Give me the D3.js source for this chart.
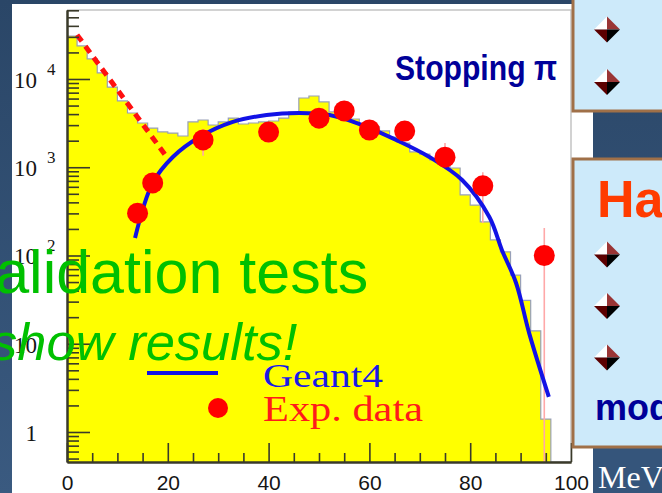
<!DOCTYPE html>
<html><head><meta charset="utf-8">
<script src="https://cdn.jsdelivr.net/npm/d3@7"></script>
<style>html,body{margin:0;padding:0;overflow:hidden;background:#2c4a6b}svg{display:block}</style>
</head><body><svg id="c" width="662" height="493"></svg>
<script>
// ---------- data ----------
const histBinStart = d3.range(0, 100, 2); // 2 MeV bins
const histCounts = [30700, 23700, 16900, 11700, 8100, 5640, 4120, 3170, 2780, 2510,
                    2440, 2260, 3260, 3430, 3010, 3260, 3610, 3090, 3170, 3260,
                    3340, 3610, 4230, 6090, 6420, 5490, 4230, 3810, 3520, 3090,
                    2860, 2580, 2200, 1880, 1490, 1410, 1210, 1090, 980, 485,
                    373, 240, 150, 110, 60, 31, 14, 1.4, 0, 0];
const expEnergy  = [14, 17, 27, 40, 50, 55, 60, 67, 75, 82.5, 94.7];
const expCounts  = [302, 665, 2040, 2500, 3600, 4350, 2640, 2570, 1300, 615, 100];
const expErrLow  = [240, 560, 1350, 1900, 3000, 3700, 2200, 2100, 1000, 234, 0.3];
const expErrHigh = [380, 790, 2700, 3100, 4300, 5100, 3100, 3100, 1880, 880, 205];
const g4Energy = [13.5, 17.0, 21.0, 26.3, 32.9, 39.6, 46.1, 52.1, 58.6, 65.3, 71.9, 78.4, 83.8, 86.3, 89.1, 91.7, 95.6];
const g4Counts = [158, 664, 1307, 2200, 3260, 3910, 4120, 3910, 3010, 2040, 1307, 717, 273, 115, 48.8, 13.2, 2.5];
const fitEnergy = [2, 20];
const fitCounts = [31600, 1260];
const xTicks = [0, 20, 40, 60, 80, 100];
const yTicks = [1, 10, 100, 1000, 10000];
const yTickLabels = [["1", ""], ["10", ""], ["10", "2"], ["10", "3"], ["10", "4"]];

// ---------- drawing ----------
const svg = d3.select("#c");
const defs = svg.append("defs");
const grad = defs.append("linearGradient").attr("id", "bg").attr("x1", 0).attr("y1", 0).attr("x2", 0).attr("y2", 1);
grad.append("stop").attr("offset", "0%").attr("stop-color", "#2a4667");
grad.append("stop").attr("offset", "100%").attr("stop-color", "#3a5a80");
svg.append("rect").attr("width", 662).attr("height", 493).attr("fill", "url(#bg)");
svg.append("rect").attr("x", 12).attr("y", 4).attr("width", 581).attr("height", 489).attr("fill", "#fff");

const x = d3.scaleLinear().domain([0, 100]).range([67, 571]);
const y = d3.scaleLog().domain([0.457, 60500]).range([462, 10]);
const ymin = y.domain()[0];

defs.append("clipPath").attr("id", "plot").append("rect")
  .attr("x", 67).attr("y", 10).attr("width", 504).attr("height", 452);

// frame (top/right light grey)
svg.append("path").attr("d", `M67,10H571V462`).attr("fill", "none").attr("stroke", "#c4c4c4").attr("stroke-width", 1.5);

const plot = svg.append("g").attr("clip-path", "url(#plot)");
const hist = histBinStart.map((s, i) => ({e: s, v: histCounts[i]}));
hist.push({e: 100, v: histCounts[histCounts.length - 1]});
const hy = d => y(Math.max(d.v, ymin));
plot.append("path").datum(hist)
  .attr("d", d3.area().x(d => x(d.e)).y0(y(ymin)).y1(hy).curve(d3.curveStepAfter))
  .attr("fill", "#ffff00");
plot.append("path").datum(hist)
  .attr("d", d3.line().x(d => x(d.e)).y(hy).curve(d3.curveStepAfter))
  .attr("fill", "none").attr("stroke", "#98a0b8").attr("stroke-width", 1.2);

// axes
const axCol = "#3a3a2a";
const yMinor = y.ticks().filter(v => !yTicks.includes(v));
function styleAxis(g) {
  g.selectAll("line").attr("stroke", axCol).attr("stroke-width", 1.6);
  g.select(".domain").attr("stroke", axCol).attr("stroke-width", 2);
}
svg.append("g").attr("transform", "translate(67,0)")
  .call(d3.axisLeft(y).tickValues(yMinor).tickSize(-12).tickSizeOuter(0).tickFormat(""))
  .call(styleAxis);
svg.append("g").attr("transform", "translate(67,0)")
  .call(d3.axisLeft(y).tickValues(yTicks).tickSize(-23).tickSizeOuter(0).tickFormat(""))
  .call(styleAxis);
const xMinor = d3.range(0, 101, 5).filter(v => !xTicks.includes(v));
svg.append("g").attr("transform", "translate(0,462)")
  .call(d3.axisBottom(x).tickValues(xMinor).tickSize(-9).tickSizeOuter(0).tickFormat(""))
  .call(styleAxis);
const xa = svg.append("g").attr("transform", "translate(0,462)")
  .call(d3.axisBottom(x).tickValues(xTicks).tickSize(-19).tickSizeOuter(0).tickPadding(13))
  .call(styleAxis);
xa.selectAll("text").attr("font-family", "Liberation Sans, Arial, sans-serif").attr("font-size", 21).attr("fill", "#151515");

// y tick labels
const yl = svg.append("g").attr("font-family", "Liberation Serif, serif").attr("fill", "#151515");
yTicks.forEach((t, i) => {
  const [base, sup] = yTickLabels[i];
  yl.append("text").attr("x", 37).attr("y", y(t) + 9).attr("text-anchor", "end").attr("font-size", 23).text(base);
  if (sup) yl.append("text").attr("x", 47).attr("y", y(t) - 4).attr("font-size", 17).text(sup);
});

// dashed red fit
plot.append("path").datum(fitEnergy.map((e, i) => [e, fitCounts[i]]))
  .attr("d", d3.line().x(d => x(d[0])).y(d => y(d[1])))
  .attr("fill", "none").attr("stroke", "#ff1010").attr("stroke-width", 5).attr("stroke-dasharray", "8,6");

// error bars
plot.selectAll("line.err").data(expEnergy).join("line").attr("class", "err")
  .attr("x1", d => x(d)).attr("x2", d => x(d))
  .attr("y1", (d, i) => y(Math.max(expErrLow[i], ymin))).attr("y2", (d, i) => y(expErrHigh[i]))
  .attr("stroke", "#ffa8a8").attr("stroke-width", 1.6);

// Geant4 curve
plot.append("path").datum(g4Energy.map((e, i) => [e, g4Counts[i]]))
  .attr("d", d3.line().x(d => x(d[0])).y(d => y(d[1])).curve(d3.curveCatmullRom))
  .attr("fill", "none").attr("stroke", "#1212e6").attr("stroke-width", 4);

// exp points
plot.selectAll("circle.exp").data(expEnergy).join("circle").attr("class", "exp")
  .attr("cx", d => x(d)).attr("cy", (d, i) => y(expCounts[i])).attr("r", 10.5).attr("fill", "#ff0000");

// legend
svg.append("line").attr("x1", 147).attr("x2", 218).attr("y1", 373).attr("y2", 373).attr("stroke", "#1212e6").attr("stroke-width", 4);
svg.append("circle").attr("cx", 218).attr("cy", 408).attr("r", 10).attr("fill", "#ff0000");
svg.append("text").attr("x", 263).attr("y", 387).attr("font-family", "Liberation Serif, serif").attr("font-size", 34)
  .attr("fill", "#1a1ae6").attr("textLength", 120).attr("lengthAdjust", "spacingAndGlyphs").text("Geant4");
svg.append("text").attr("x", 263).attr("y", 421).attr("font-family", "Liberation Serif, serif").attr("font-size", 35)
  .attr("fill", "#ff1a1a").attr("textLength", 160).attr("lengthAdjust", "spacingAndGlyphs").text("Exp. data");

// title
svg.append("text").attr("x", 395).attr("y", 80).attr("font-family", "Liberation Sans, Arial, sans-serif").attr("font-weight", "bold")
  .attr("font-size", 35).attr("fill", "#000099").attr("textLength", 162).attr("lengthAdjust", "spacingAndGlyphs").text("Stopping π");

// right panels
const panelFill = "#cdeafa", panelStroke = "#a07048";
svg.append("rect").attr("x", 573).attr("y", -10).attr("width", 100).attr("height", 121)
  .attr("fill", panelFill).attr("stroke", panelStroke).attr("stroke-width", 3);
svg.append("rect").attr("x", 573).attr("y", 159).attr("width", 100).attr("height", 288)
  .attr("fill", panelFill).attr("stroke", panelStroke).attr("stroke-width", 3);
function bullet(cx, cy) {
  const s = 13, g = svg.append("g").attr("transform", `translate(${cx},${cy})`);
  g.append("path").attr("d", `M0,0L${-s},0L0,${-s}Z`).attr("fill", "#ffffff");
  g.append("path").attr("d", `M0,0L0,${-s}L${s},0Z`).attr("fill", "#9a3535");
  g.append("path").attr("d", `M0,0L${-s},0L0,${s}Z`).attr("fill", "#5c0000");
  g.append("path").attr("d", `M0,0L${s},0L0,${s}Z`).attr("fill", "#000000");
}
[29.5, 82].forEach(cy => bullet(607, cy));
[254.5, 306, 357.5].forEach(cy => bullet(607, cy));
svg.append("text").attr("x", 597).attr("y", 217).attr("font-family", "Liberation Sans, Arial, sans-serif").attr("font-weight", "bold")
  .attr("font-size", 52).attr("fill", "#ff3c00").text("Ha");
svg.append("text").attr("x", 595).attr("y", 420).attr("font-family", "Liberation Sans, Arial, sans-serif").attr("font-weight", "bold")
  .attr("font-size", 36).attr("fill", "#000099").text("mod");
svg.append("rect").attr("x", 593).attr("y", 449).attr("width", 70).attr("height", 44).attr("fill", "#35557b");
svg.append("text").attr("x", 598).attr("y", 488).attr("font-family", "Liberation Serif, serif")
  .attr("font-size", 32).attr("fill", "#ffffff").text("MeV");

// overlay green slide text
svg.append("text").attr("x", -41).attr("y", 293).attr("font-family", "Liberation Sans, Arial, sans-serif")
  .attr("font-size", 61).attr("fill", "#00c000").text("Validation tests");
svg.append("text").attr("x", -9).attr("y", 360).attr("font-family", "Liberation Sans, Arial, sans-serif")
  .attr("font-style", "italic").attr("font-size", 52.5).attr("fill", "#00c000").text("show results!");
</script></body></html>
